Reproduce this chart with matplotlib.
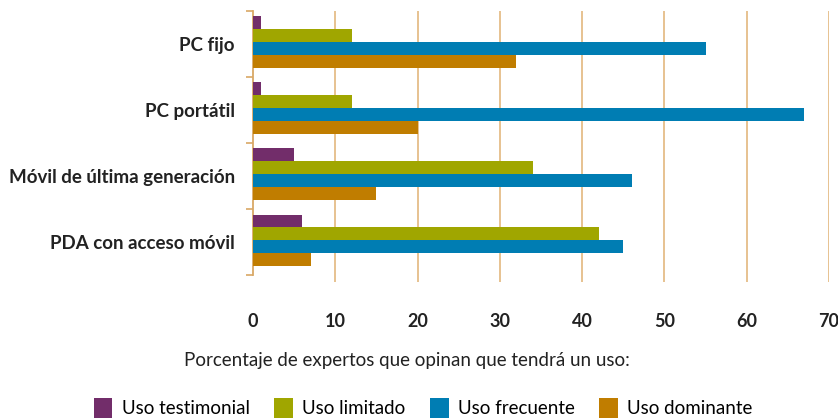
import numpy as np
import matplotlib
matplotlib.use("Agg")
import matplotlib.pyplot as plt
from matplotlib.patches import Patch

categorias = ["PC fijo", "PC portátil", "Móvil de última generación", "PDA con acceso móvil"]
series = ["Uso testimonial", "Uso limitado", "Uso frecuente", "Uso dominante"]
testimonial = [1, 1, 5, 6]
limitado = [12, 12, 34, 42]
frecuente = [55, 67, 46, 45]
dominante = [32, 20, 15, 7]
colores = ["#722d6a", "#a0a600", "#007db3", "#c07d00"]
ticks_x = [0, 10, 20, 30, 40, 50, 60, 70]

plt.rcParams['font.family'] = ['Lato', 'DejaVu Sans']

fig = plt.figure(figsize=(8.38, 4.19), dpi=100)
ax = fig.add_axes([253 / 838, 1 - 282 / 419, (829 - 253) / 838, (282 - 11) / 419])

y = np.arange(len(categorias))
h = 0.195
valores = [testimonial, limitado, frecuente, dominante]
for i, (vals, col) in enumerate(zip(valores, colores)):
    ax.barh(y + (i - 1.5) * h - 0.03, vals, height=h, color=col, zorder=3)

ax.set_xlim(0, 70)
ax.set_ylim(3.6, -0.5)
ax.set_xticks(ticks_x)
ax.set_xticklabels([str(t) for t in ticks_x], fontsize=13, fontweight='bold', color='#222222')
ax.tick_params(axis='x', length=0, pad=22)
for t in ticks_x[1:]:
    ax.axvline(t, color='#e5bd88', lw=1.3, zorder=1)

ax.set_yticks(np.arange(-0.5, 4, 1))
ax.set_yticklabels([])
ax.set_yticks(y, minor=True)
ax.set_yticklabels(categorias, minor=True, fontsize=13.5, fontweight='bold', color='#222222')
ax.tick_params(axis='y', which='major', length=5, color='#d9a866', width=1.2)
ax.tick_params(axis='y', which='minor', length=0, pad=13)

for s in ['top', 'right', 'bottom']:
    ax.spines[s].set_visible(False)
ax.spines['left'].set_color('#d9a866')
ax.spines['left'].set_linewidth(1.3)
ax.spines['left'].set_bounds(-0.5, 3.5)

fig.text(0.486, 1 - 360 / 419, "Porcentaje de expertos que opinan que tendrá un uso:",
         ha='center', va='center', fontsize=13.5, color='#222222')

handles = [Patch(facecolor=c, edgecolor='none') for c in colores]
fig.legend(handles, series, ncol=4, loc='center', bbox_to_anchor=(0.505, 1 - 408 / 419),
           frameon=False, fontsize=13.5, handlelength=1.0, handleheight=1.2,
           handletextpad=0.5, columnspacing=1.3, borderaxespad=0)

fig.savefig("out.png", dpi=100)
